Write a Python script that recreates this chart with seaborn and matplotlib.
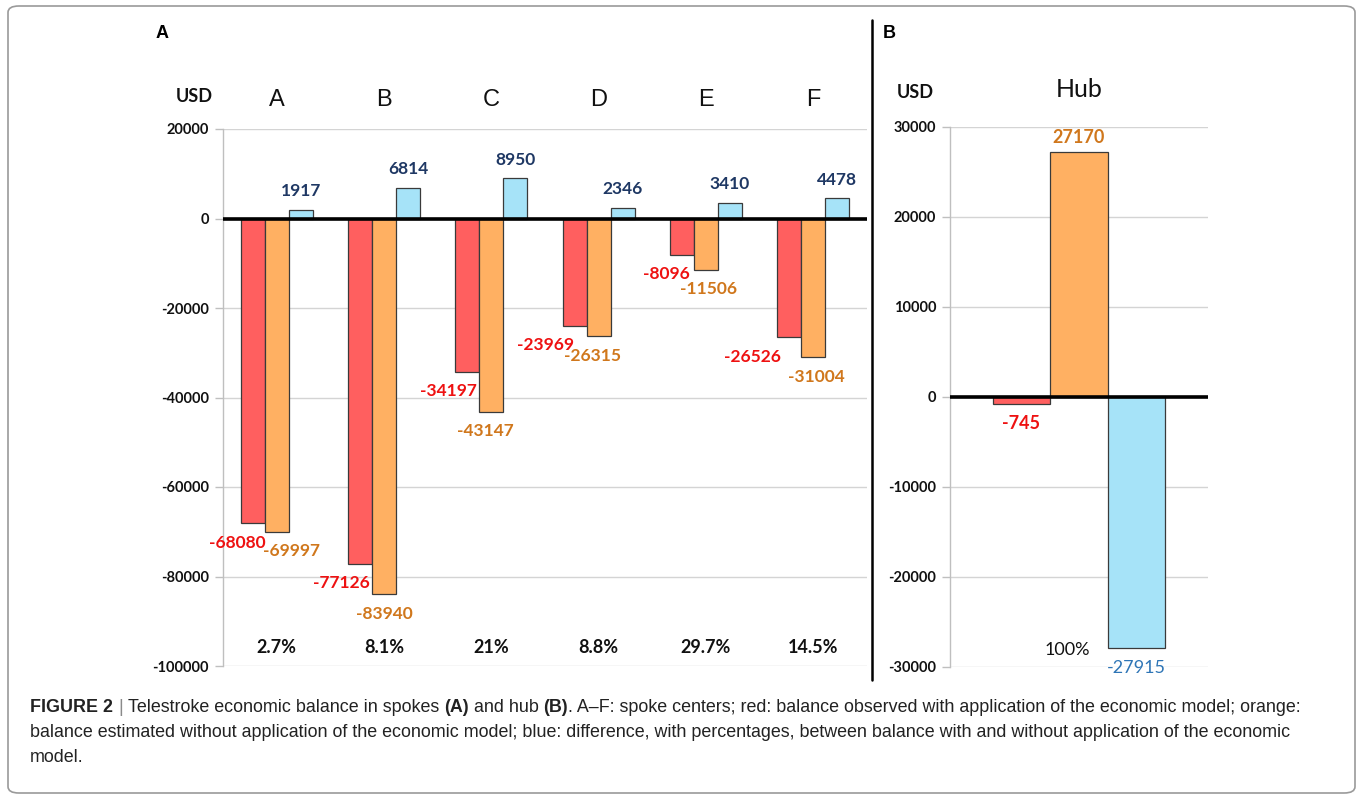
import numpy as np
import pandas as pd
import matplotlib
matplotlib.use("Agg")
import matplotlib.pyplot as plt
import matplotlib.transforms as mtransforms
from matplotlib.patches import FancyBboxPatch
from matplotlib.lines import Line2D
import seaborn as sns

# ---------------- data ----------------
centers = ["A", "B", "C", "D", "E", "F"]
observed = [-68080, -77126, -34197, -23969, -8096, -26526]
estimated = [-69997, -83940, -43147, -26315, -11506, -31004]
difference = [1917, 6814, 8950, 2346, 3410, 4478]
percentages = ["2.7%", "8.1%", "21%", "8.8%", "29.7%", "14.5%"]

hub_label = ["Hub"]
hub_observed = [-745]
hub_estimated = [27170]
hub_difference = [-27915]
hub_percentage = ["100%"]

series_names = ["observed", "estimated", "difference"]
yticks_a = [20000, 0, -20000, -40000, -60000, -80000, -100000]
yticks_b = [30000, 20000, 10000, 0, -10000, -20000, -30000]

caption_lines = [
    [("FIGURE 2", "bold"), ("|", "light"), ("Telestroke economic balance in spokes", "normal"),
     ("(A)", "bold"), ("and hub", "normal"), ("(B)", "bold"),
     ("@. A–F: spoke centers; red: balance observed with application of the economic model; orange:", "normal")],
    [("balance estimated without application of the economic model; blue: difference, with percentages, between balance with and without application of the economic", "normal")],
    [("model.", "normal")],
]

# ---------------- style ----------------
bar_colors = ["#FF5F5F", "#FFB062", "#A6E3F8"]
label_colors_a = ["#EE1111", "#D0771C", "#1F3864"]
label_colors_b = ["#EE1111", "#D0771C", "#2E75B6"]
# horizontal nudges (pixels) of the value labels, per series and per category
label_dx_px = [
    [-15, -19, -19, -29, -16, -37],
    [15, 0, -6, -6, 3, 3],
    [0, 0, 0, 0, 0, 0],
]
NUM_FONT = ["Lato", "DejaVu Sans"]
ARIAL = ["Liberation Sans", "DejaVu Sans"]

sns.set_theme(style="white")
plt.rcParams["font.family"] = NUM_FONT

W, H = 1359, 798
fig = plt.figure(figsize=(W / 100, H / 100), dpi=100)
fig.patch.set_facecolor("white")
PT = 72 / 100  # points per pixel


def fx(px):
    return px / W


def fy(py):
    return 1 - py / H


def style_axes(ax, ylim, yticks):
    ax.set_ylim(*ylim)
    ax.set_yticks(yticks)
    ax.set_yticklabels([str(t) for t in yticks])
    for s in ["top", "right", "bottom"]:
        ax.spines[s].set_visible(False)
    ax.spines["left"].set_color("#BFBFBF")
    ax.spines["left"].set_linewidth(1.0)
    ax.grid(axis="y", color="#D4D4D4", linewidth=1.0)
    ax.grid(axis="x", visible=False)
    ax.set_axisbelow(True)
    ax.tick_params(axis="y", which="both", left=True, length=6, width=1.0,
                   color="#BFBFBF", pad=4, labelsize=10.5)
    for lab in ax.get_yticklabels():
        lab.set_fontweight("bold")
        lab.set_color("#111111")
        lab.set_family(NUM_FONT)
    ax.axhline(0, color="black", linewidth=2.6, zorder=5)
    ax.set_xlabel("")
    ax.set_ylabel("")


# ---------------- panel A ----------------
axA = fig.add_axes([fx(223), fy(666), fx(867 - 223), (666 - 129) / H])
dfA = pd.DataFrame({
    "center": centers * 3,
    "value": observed + estimated + difference,
    "series": sum([[n] * len(centers) for n in series_names], []),
})
sns.barplot(data=dfA, x="center", y="value", hue="series", order=centers,
            hue_order=series_names, palette=bar_colors, saturation=1,
            width=0.67, edgecolor="#3A3A3A", linewidth=0.9, legend=False,
            errorbar=None, ax=axA)
style_axes(axA, (-100000, 20000), yticks_a)
axA.xaxis.tick_top()
axA.tick_params(axis="x", top=False, bottom=False, labeltop=True,
                labelbottom=False, length=0, pad=13)
for lab in axA.get_xticklabels():
    lab.set_family(ARIAL)
    lab.set_fontsize(17)
    lab.set_color("#111111")

for si, cont in enumerate(axA.containers):
    for ci, bar in enumerate(cont):
        h = bar.get_height()
        xc = bar.get_x() + bar.get_width() / 2
        val = int(round(h))
        dy = 13.5 if val >= 0 else -14
        axA.annotate(str(val), xy=(xc, h), xytext=(label_dx_px[si][ci] * PT, dy),
                     textcoords="offset points", ha="center", va="center",
                     fontsize=12.5, fontweight="bold", color=label_colors_a[si],
                     family=NUM_FONT, zorder=6)

transA = mtransforms.blended_transform_factory(axA.transData, axA.transAxes)
for i, p in enumerate(percentages):
    axA.text(i, 0.034, p, transform=transA, ha="center", va="center",
             fontsize=13, fontweight="bold", color="#111111", family=NUM_FONT)

# ---------------- panel B ----------------
axB = fig.add_axes([fx(950), fy(667), fx(1208 - 950), (667 - 127) / H])
dfB = pd.DataFrame({
    "center": hub_label * 3,
    "value": hub_observed + hub_estimated + hub_difference,
    "series": series_names,
})
sns.barplot(data=dfB, x="center", y="value", hue="series",
            hue_order=series_names, palette=bar_colors, saturation=1,
            width=0.67, edgecolor="#3A3A3A", linewidth=0.9, legend=False,
            errorbar=None, ax=axB)
style_axes(axB, (-30000, 30000), yticks_b)
axB.xaxis.tick_top()
axB.tick_params(axis="x", top=False, bottom=False, labeltop=True,
                labelbottom=False, length=0, pad=19)
for lab in axB.get_xticklabels():
    lab.set_family(NUM_FONT)
    lab.set_fontsize(18)
    lab.set_color("#111111")

for si, cont in enumerate(axB.containers):
    for bar in cont:
        h = bar.get_height()
        xc = bar.get_x() + bar.get_width() / 2
        val = int(round(h))
        dy = 11 if val >= 0 else -14
        axB.annotate(str(val), xy=(xc, h), xytext=(0, dy),
                     textcoords="offset points", ha="center", va="center",
                     fontsize=13, fontweight="bold" if si < 2 else "normal",
                     color=label_colors_b[si], family=NUM_FONT, zorder=6)

transB = mtransforms.blended_transform_factory(axB.transData, axB.transAxes)
axB.text(-0.045, 0.031, hub_percentage[0], transform=transB, ha="center",
         va="center", fontsize=13, color="#111111", family=NUM_FONT)

# ---------------- figure decorations ----------------
fig.text(fx(194), fy(97), "USD", ha="center", va="center", fontsize=13,
         fontweight="bold", family=NUM_FONT, color="#111111")
fig.text(fx(915), fy(93), "USD", ha="center", va="center", fontsize=13,
         fontweight="bold", family=NUM_FONT, color="#111111")
fig.text(fx(162), fy(33), "A", ha="center", va="center", fontsize=13,
         fontweight="bold", family=ARIAL, color="black")
fig.text(fx(889), fy(33), "B", ha="center", va="center", fontsize=13,
         fontweight="bold", family=ARIAL, color="black")
fig.add_artist(Line2D([fx(872), fx(872)], [fy(20), fy(680)], color="black",
                      linewidth=1.8, transform=fig.transFigure))

border = FancyBboxPatch((fx(8), fy(793)), fx(1355 - 8), (793 - 6) / H,
                        boxstyle="round,pad=0,rounding_size=0.008",
                        transform=fig.transFigure, facecolor="none",
                        edgecolor="#9A9A9A", linewidth=1.2)
fig.add_artist(border)

# caption with mixed weights
CAP_FONT = ["Liberation Sans", "DejaVu Sans"]
CAP_SIZE = 12.85
renderer = fig.canvas.get_renderer()


def text_width(s, weight):
    t = fig.text(0, 0, s, fontsize=CAP_SIZE, fontweight=weight, family=CAP_FONT)
    w = t.get_window_extent(renderer).width
    t.remove()
    return w


space_w = text_width("x x", "normal") - text_width("xx", "normal")
baselines = [712, 737, 762]
for line, yb in zip(caption_lines, baselines):
    x = 30.0
    for k, (txt, weight) in enumerate(line):
        glue = True
        if txt.startswith("@"):
            txt = txt[1:]
            glue = False
        if k > 0 and glue:
            x += space_w
        col = "#8A8A8A" if weight == "light" else "#222222"
        w = "normal" if weight == "light" else weight
        t = fig.text(fx(x), fy(yb), txt, fontsize=CAP_SIZE, fontweight=w,
                     family=CAP_FONT, color=col, ha="left", va="baseline")
        x += t.get_window_extent(renderer).width

fig.savefig("out.png", dpi=100, facecolor="white")
